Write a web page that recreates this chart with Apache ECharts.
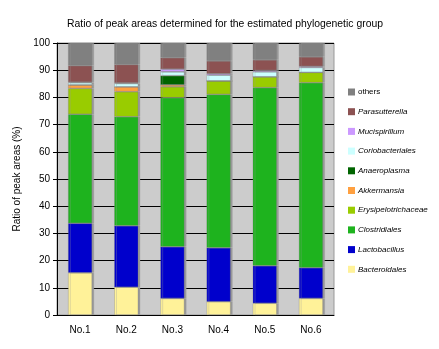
<!DOCTYPE html>
<html><head><meta charset="utf-8">
<script src="https://cdn.jsdelivr.net/npm/echarts@6/dist/echarts.min.js"></script>
<style>html,body{margin:0;padding:0;background:#fff}#c{width:439px;height:349px}</style>
</head><body><div id="c"></div>
<script>
var categories = ['No.1','No.2','No.3','No.4','No.5','No.6'];
var yTicks = [0,10,20,30,40,50,60,70,80,90,100];
var bacteroidales = [15.5, 10.2, 6.1, 4.9, 4.3, 6.1];
var lactobacillus = [18.2, 22.6, 19.0, 19.8, 13.8, 11.3];
var clostridiales = [40.1, 40.1, 54.8, 56.4, 65.5, 68.0];
var erysipelotrichaceae = [9.5, 9.2, 4.0, 5.0, 4.0, 3.8];
var akkermansia = [1.3, 1.8, 0.7, 0, 0, 0];
var anaeroplasma = [0, 0, 3.4, 0, 0, 0];
var coriobacteriales = [0.8, 1.2, 1.4, 2.1, 1.8, 1.8];
var mucispirillum = [0.2, 0.2, 1.0, 0.5, 0.5, 0.4];
var parasutterella = [6.1, 6.8, 4.2, 4.7, 3.9, 3.5];
var others = [8.3, 7.9, 5.4, 6.6, 6.2, 5.1];

var seriesDefs = [
  ['Bacteroidales', bacteroidales, '#FFF299'],
  ['Lactobacillus', lactobacillus, '#0000CC'],
  ['Clostridiales', clostridiales, '#1EB31E'],
  ['Erysipelotrichaceae', erysipelotrichaceae, '#99CC00'],
  ['Akkermansia', akkermansia, '#FFA040'],
  ['Anaeroplasma', anaeroplasma, '#006400'],
  ['Coriobacteriales', coriobacteriales, '#CCFFFF'],
  ['Mucispirillum', mucispirillum, '#CC99FF'],
  ['Parasutterella', parasutterella, '#8C5252'],
  ['others', others, '#808080']
];
var legendOrder = ['others','Parasutterella','Mucispirillum','Coriobacteriales','Anaeroplasma','Akkermansia','Erysipelotrichaceae','Clostridiales','Lactobacillus','Bacteroidales'];

var chart = echarts.init(document.getElementById('c'), null, {renderer:'canvas'});
var font = '"Liberation Sans", Arial, sans-serif';
chart.setOption({
  animation:false,
  textStyle:{fontFamily:font},
  title:{text:'Ratio of peak areas determined for the estimated phylogenetic group', left:220, textAlign:'center', top:14,
    textStyle:{fontSize:10.4, fontWeight:'normal', color:'#000', fontFamily:font}},
  legend:{
    data: legendOrder.map(function(n){return {name:n, textStyle:{fontStyle: n==='others'?'normal':'italic'}};}),
    orient:'vertical', left:343, top:83, itemWidth:7, itemHeight:7, itemGap:11.7,
    icon:'rect',
    itemStyle:{borderWidth:0},
    textStyle:{fontSize:8, color:'#000', fontFamily:font, padding:[0,0,0,-2]}
  },
  grid:{left:57, right:105, top:43, bottom:34, show:true, backgroundColor:'#CCCCCC', borderColor:'#999', borderWidth:1},
  xAxis:{type:'category', data:categories,
    axisLine:{lineStyle:{color:'#000', width:1}},
    axisTick:{inside:true, length:3, lineStyle:{color:'#000'}},
    axisLabel:{fontSize:10, color:'#000', margin:10, fontFamily:font}},
  yAxis:{type:'value', min:0, max:100, interval:10,
    name:'Ratio of peak areas (%)', nameLocation:'middle', nameGap:29, nameRotate:90,
    nameTextStyle:{fontSize:10, color:'#000', fontFamily:font},
    axisLine:{show:true, lineStyle:{color:'#000', width:1}},
    axisTick:{show:true, length:4, lineStyle:{color:'#000'}},
    axisLabel:{fontSize:10, color:'#000', margin:7, fontFamily:font,
      formatter:function(v){return yTicks.indexOf(v)>=0? String(v):'';}},
    splitLine:{show:true, lineStyle:{color:'#000', width:1}}},
  series: seriesDefs.map(function(d){
    return {name:d[0], type:'bar', stack:'all', data:d[1], barWidth:24,
      itemStyle:{color:d[2], borderColor:'rgba(120,120,120,0.6)', borderWidth:0.5,
        shadowColor:'#999', shadowOffsetX:2, shadowBlur:0}};
  })
});
</script></body></html>
